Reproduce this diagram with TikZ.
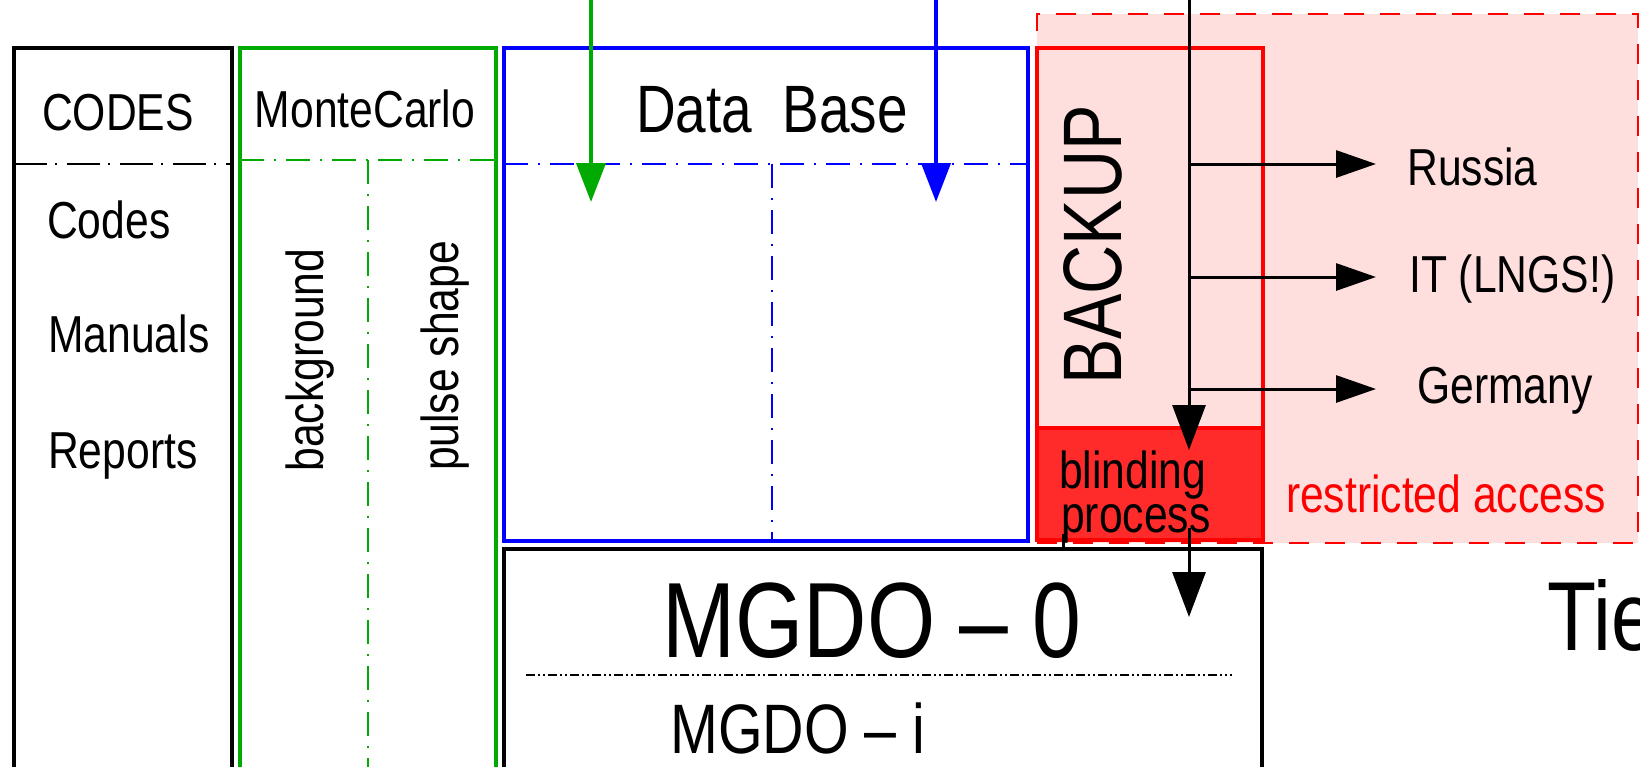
\documentclass[tikz,border=0pt]{standalone}
\usepackage{fontspec}
\setmainfont{Liberation Sans}[FakeStretch=0.82]
\usetikzlibrary{arrows.meta}
\definecolor{mcgreen}{RGB}{0,170,0}
\definecolor{dbblue}{RGB}{0,0,255}
\definecolor{bred}{RGB}{255,0,0}
\definecolor{pinkfill}{RGB}{255,222,222}
\definecolor{blindred}{RGB}{255,42,42}
\begin{document}
\begin{tikzpicture}[x=1pt,y=-1pt,
  frame/.style={line width=4.5pt,anchor=north west,inner sep=0pt,outer sep=0pt},
  ddot/.style={line width=1.8pt,dash pattern=on 24pt off 10pt on 2pt off 10pt},
  ddotblack/.style={line width=1.8pt,dash pattern=on 33pt off 8pt on 2pt off 10pt},
  fine/.style={line width=1.5pt,dash pattern=on 9pt off 3pt on 2pt off 3pt on 2pt off 3pt},
  lbl/.style={inner sep=0pt,anchor=base west},
  clbl/.style={inner sep=0pt,anchor=base},
  rlbl/.style={inner sep=0pt,anchor=base,rotate=90},
  fs/.style={font=\fontsize{#1pt}{#1pt}\selectfont},
  colarrow/.style={line width=4pt,-{Triangle[length=39pt,width=29pt]}},
  harrow/.style={line width=3pt,-{Triangle[length=40pt,width=27pt]}},
  varrow/.style={line width=3pt,-{Triangle[length=45pt,width=33pt]}}
]
\clip (0,0) rectangle (1640,766);
\fill[white] (0,0) rectangle (1640,766);

% restricted region
\node[frame,draw=bred,fill=pinkfill,line width=2.5pt,dash pattern=on 20pt off 16pt,
      minimum width=601pt,minimum height=529pt] (restr) at (1037,14) {};

% boxes
\node[frame,draw=black,minimum width=218pt,minimum height=760pt] (codes) at (14,48) {};
\node[frame,draw=mcgreen,minimum width=256pt,minimum height=760pt] (mc) at (240,48) {};
\node[frame,draw=dbblue,minimum width=524pt,minimum height=493pt] (db) at (504,48) {};
\node[frame,draw=bred,fill=pinkfill,minimum width=226pt,minimum height=380pt] (backup) at (1037,48) {};
\node[frame,draw=bred,fill=blindred,minimum width=226pt,minimum height=112pt] (blind) at (1037,428) {};
\node[frame,draw=black,minimum width=758pt,minimum height=260pt] (mgdo) at (504,549) {};

% internal dash-dot lines
\draw[ddotblack] (14,164) -- (232,164);
\draw[ddot,mcgreen] (240,160) -- (496,160);
\draw[ddot,mcgreen] (368,160) -- (368,790);
\draw[ddot,dbblue] (504,164) -- (1028,164);
\draw[ddot,dbblue] (772,164) -- (772,541);
\draw[fine] (526,675) -- (1232,675);

% texts
\node[clbl,fs=52] (tcodes) at (118,130) {CODES};
\node[lbl,fs=52] (tc1) at (47,238) {Codes};
\node[lbl,fs=52] (tc2) at (48,352) {Manuals};
\node[lbl,fs=52] (tc3) at (48,468) {Reports};
\node[clbl,fs=52] (tmc) at (365,127) {MonteCarlo};
\node[rlbl,fs=52] (tbg) at (323,360) {background};
\node[rlbl,fs=52] (tps) at (458,356) {pulse shape};
\node[clbl,fs=67] (tdb) at (772,132) {Data\ \ Base};
\node[rlbl,fs=83] (tbk) at (1121,245) {BACKUP};
\node[lbl,fs=52] (tru) at (1407,185) {Russia};
\node[lbl,fs=52] (tit) at (1409,292) {IT (LNGS!)};
\node[lbl,fs=52] (tge) at (1417,403) {Germany};
\node[lbl,fs=52] (tbl1) at (1059,488) {blinding};
\node[lbl,fs=52] (tbl2) at (1061,532) {process};
\node[clbl,fs=52,text=bred] (tra) at (1446,512) {restricted access};
\node[clbl,fs=107] (tm0) at (872,657) {MGDO – 0};
\node[lbl,fs=70] (tmi) at (670,753) {MGDO – i};
\node[lbl,fs=98] (ttie) at (1547,650) {Tie};

% connectors
\coordinate (gtop) at (591,0);
\coordinate (gend) at (591,202);
\coordinate (btop) at (936,0);
\coordinate (bend) at (936,202);
\coordinate (ktop) at (1189,0);
\coordinate (kend) at (1189,450);
\draw[colarrow,mcgreen] (gtop) -- (gend);
\draw[colarrow,dbblue] (btop) -- (bend);
\draw[varrow] (ktop) -- (kend);
\coordinate (h1) at (1189,164);
\coordinate (h2) at (1189,277);
\coordinate (h3) at (1189,389);
\draw[harrow] (h1) -- (1376,164);
\draw[harrow] (h2) -- (1376,277);
\draw[harrow] (h3) -- (1376,389);
\coordinate (bout) at (1189,528);
\coordinate (mgin) at (1189,617);
\draw[varrow] (bout) -- (mgin);
\draw[line width=3pt] (1063,534) -- (1063,549);
\end{tikzpicture}
\end{document}
